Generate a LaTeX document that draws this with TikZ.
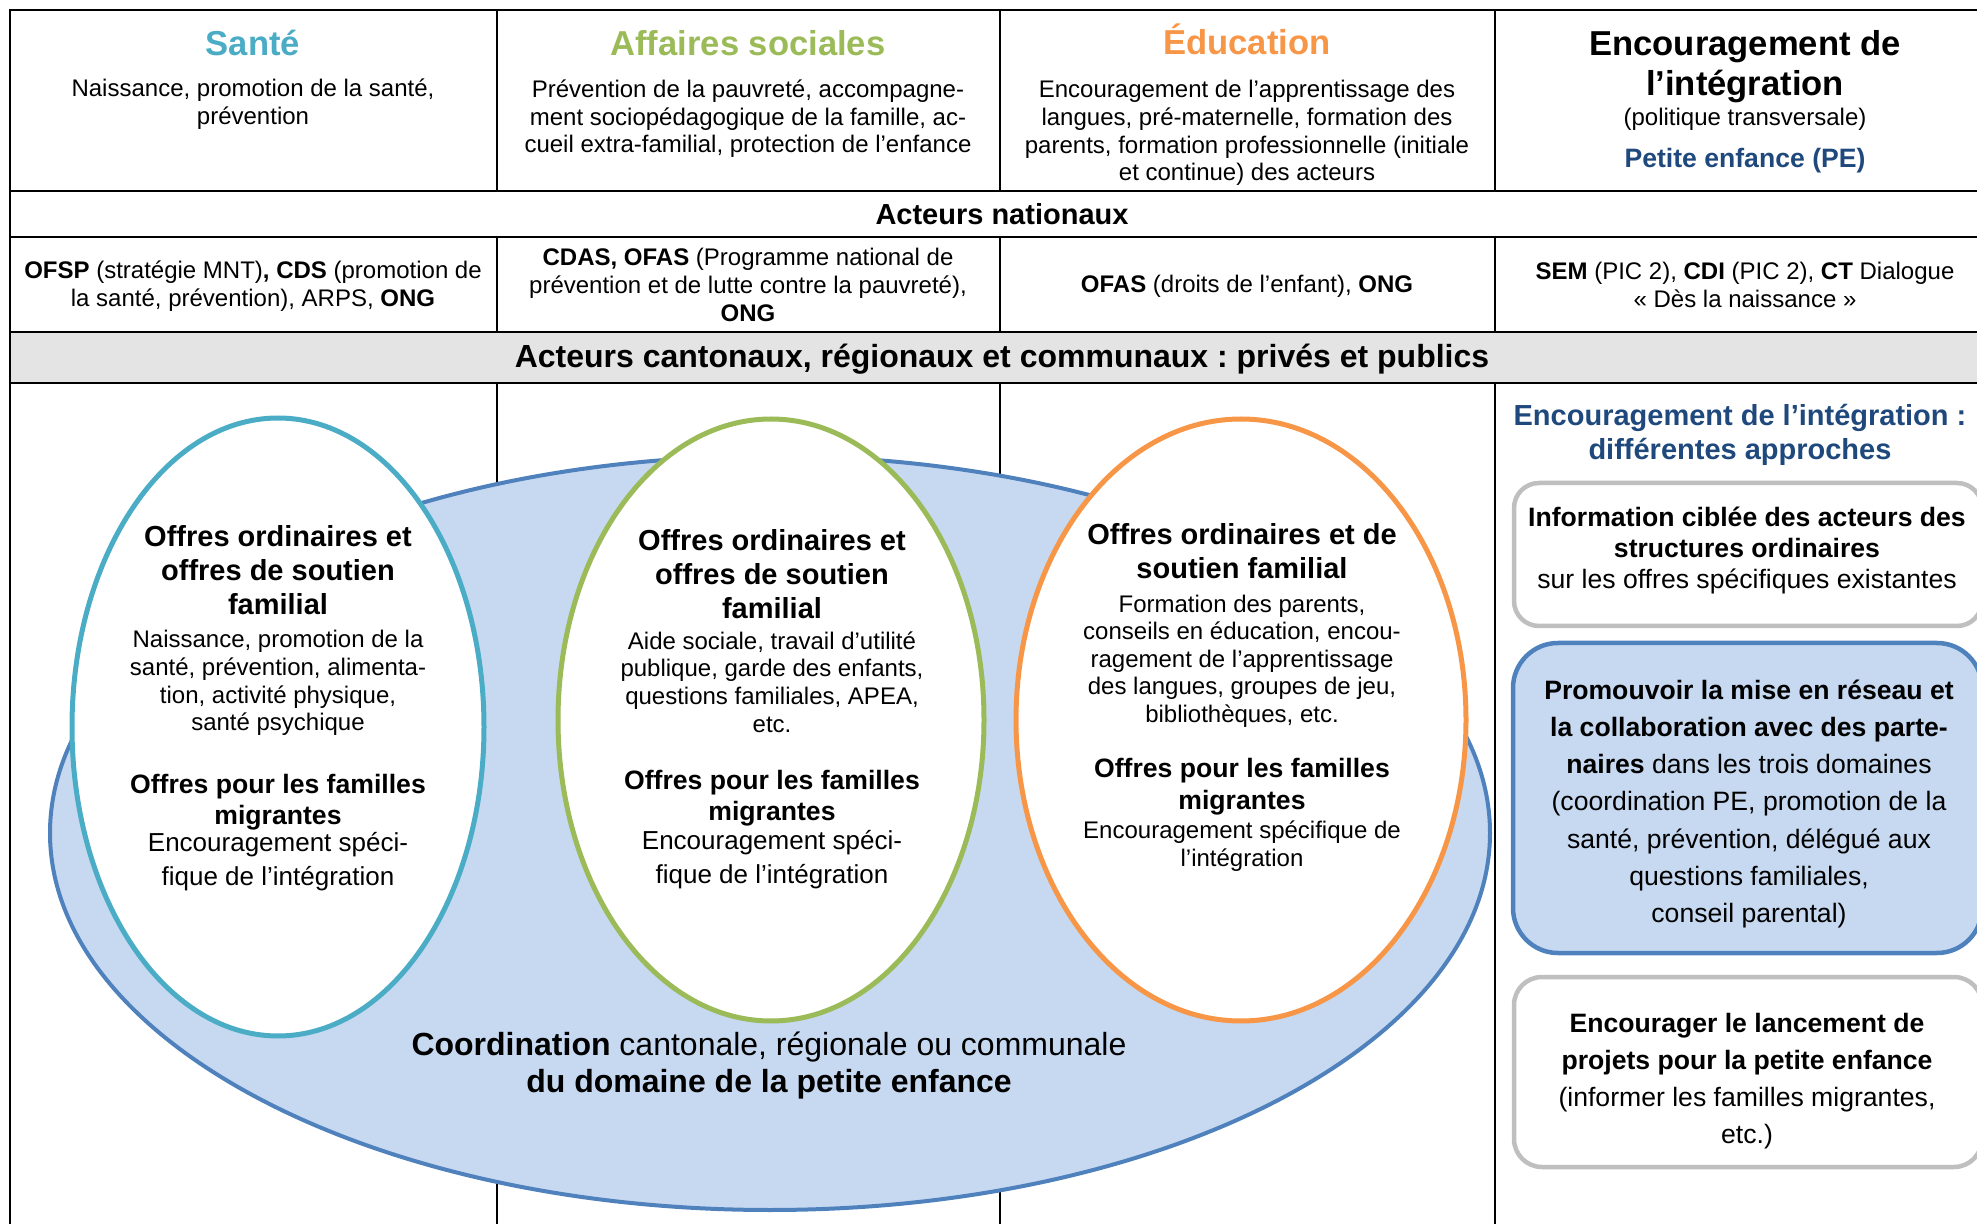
\documentclass[tikz,border=0pt]{standalone}
\usepackage{fontspec}
\setmainfont{Liberation Sans}
\frenchspacing
\definecolor{santecol}{RGB}{75,172,198}
\definecolor{socialcol}{RGB}{155,187,89}
\definecolor{educcol}{RGB}{247,150,70}
\definecolor{coordline}{RGB}{79,129,189}
\definecolor{coordfill}{RGB}{198,217,241}
\definecolor{titleblue}{RGB}{31,73,125}
\definecolor{bandgray}{RGB}{228,228,228}
\definecolor{boxgray}{RGB}{191,191,191}

\begin{document}
\begin{tikzpicture}[x=0.5pt, y=-0.5pt,
    every node/.style={align=center, inner sep=0pt},
    rule/.style={line width=1pt, black},
    coltitle/.style={font=\fontsize{17.3}{20}\selectfont\bfseries},
    coltext/.style={font=\fontsize{12}{13.8}\selectfont},
    rowtitle/.style={font=\fontsize{14.5}{17}\selectfont\bfseries},
    offre/.style={fill=white, line width=2.5pt},
    offhead/.style={font=\fontsize{14.5}{17}\selectfont\bfseries},
    offmig/.style={font=\fontsize{13.3}{15.5}\selectfont\bfseries},
    offenc/.style={font=\fontsize{13}{17}\selectfont},
    approach/.style={line width=2.25pt, rounded corners=12.5pt},
    apptext/.style={font=\fontsize{13.3}{15.5}\selectfont}]

    \useasboundingbox (0,0) rectangle (1977,1224);
    \clip (0,0) rectangle (1977,1224);

    % table
    \fill[bandgray] (10,332) rectangle (1994,383);
    \draw[rule] (10,1230) -- (10,10) -- (1994,10);
    \foreach \yy in {191, 237, 332, 383} {%
        \draw[rule] (10,\yy) -- (1994,\yy);
    };
    \foreach \xx in {497, 1000, 1495} {%
        \draw[rule] (\xx,10) -- (\xx,191);
        \draw[rule] (\xx,237) -- (\xx,332);
        \draw[rule] (\xx,383) -- (\xx,1230);
    };

    % head of the columns
    \node[coltitle, text=santecol] (sante) at (253,43) {Santé};
    \node[coltext] (sante-txt) at (253,104)
        {Naissance, promotion de la santé,\\prévention};
    \node[coltitle, text=socialcol] (social) at (748,43) {Affaires sociales};
    \node[coltext] (social-txt) at (748,119)
        {Prévention de la pauvreté, accompagne-\\ment sociopédagogique de la famille, ac-\\cueil extra-familial, protection de l’enfance};
    \node[coltitle, text=educcol] (educ) at (1247,39) {Éducation};
    \node[coltext] (educ-txt) at (1247,133)
        {Encouragement de l’apprentissage des\\langues, pré-maternelle, formation des\\parents, formation professionnelle (initiale\\et continue) des acteurs};
    \node[coltitle] (integ) at (1745,67) {Encouragement de\\l’intégration};
    \node[coltext] (integ-txt) at (1745,119) {(politique transversale)};
    \node[font=\fontsize{13.3}{16}\selectfont\bfseries, text=titleblue] (pe)
        at (1745,161) {Petite enfance (PE)};

    % national actors
    \node[rowtitle] (nationaux) at (1002,214) {Acteurs nationaux};
    \node[coltext] (nat-sante) at (253,286)
        {\textbf{OFSP} (stratégie MNT)\textbf{, CDS} (promotion de\\la santé, prévention), ARPS, \textbf{ONG}};
    \node[coltext] (nat-social) at (748,285)
        {\textbf{CDAS, OFAS} (Programme national de\\prévention et de lutte contre la pauvreté),\\\textbf{ONG}};
    \node[coltext] (nat-educ) at (1247,286)
        {\textbf{OFAS} (droits de l’enfant), \textbf{ONG}};
    \node[coltext] (nat-integ) at (1745,285)
        {\textbf{SEM} (PIC 2), \textbf{CDI} (PIC 2), \textbf{CT} Dialogue\\« Dès la naissance »};

    \node[font=\fontsize{16}{18}\selectfont\bfseries] (cantonaux) at (1002,359)
        {Acteurs cantonaux, régionaux et communaux : privés et publics};

    % coordination and the three domains
    \filldraw[fill=coordfill, draw=coordline, line width=2pt]
        (770,833) ellipse [x radius=720, y radius=377];
    \filldraw[offre, draw=santecol] (278,727) ellipse [x radius=206, y radius=309];
    \filldraw[offre, draw=socialcol] (771,720) ellipse [x radius=213, y radius=301];
    \filldraw[offre, draw=educcol] (1241,720) ellipse [x radius=225, y radius=301];

    \node[offhead] (sante-head) at (278,570) {Offres ordinaires et\\offres de soutien\\familial};
    \node[coltext] (sante-off) at (278,683)
        {Naissance, promotion de la\\santé, prévention, alimenta-\\tion, activité physique,\\santé psychique};
    \node[offmig] (sante-mig) at (278,802) {Offres pour les familles\\migrantes};
    \node[offenc] (sante-enc) at (278,862) {Encouragement spéci-\\fique de l’intégration};

    \node[offhead] (social-head) at (772,574) {Offres ordinaires et\\offres de soutien\\familial};
    \node[coltext] (social-off) at (772,682)
        {Aide sociale, travail d’utilité\\publique, garde des enfants,\\questions familiales, APEA,\\etc.};
    \node[offmig] (social-mig) at (772,798) {Offres pour les familles\\migrantes};
    \node[offenc] (social-enc) at (772,860) {Encouragement spéci-\\fique de l’intégration};

    \node[offhead] (educ-head) at (1242,551) {Offres ordinaires et de\\soutien familial};
    \node[coltext] (educ-off) at (1242,661)
        {Formation des parents,\\conseils en éducation, encou-\\ragement de l’apprentissage\\des langues, groupes de jeu,\\bibliothèques, etc.};
    \node[offmig, font=\fontsize{13.3}{16}\selectfont\bfseries] (educ-mig) at (1242,787)
        {Offres pour les familles\\migrantes};
    \node[coltext] (educ-enc) at (1242,846) {Encouragement spécifique de\\l’intégration};

    \node[font=\fontsize{16}{18.5}\selectfont] (coord) at (769,1066)
        {\textbf{Coordination} cantonale, régionale ou communale\\\textbf{du domaine de la petite enfance}};

    % approaches of the integration
    \node[font=\fontsize{14.5}{17}\selectfont\bfseries, text=titleblue] (approches)
        at (1740,435) {Encouragement de l’intégration :\\différentes approches};

    \draw[approach, draw=boxgray, fill=white] (1514,483) rectangle (1982,626);
    \node[apptext] (info) at (1747,551)
        {\textbf{Information ciblée des acteurs des}\\\textbf{structures ordinaires}\\sur les offres spécifiques existantes};

    \draw[approach, draw=coordline, fill=coordfill, rounded corners=22.5pt]
        (1513,643) rectangle (1982,953);
    \node[apptext, font=\fontsize{13.3}{18.6}\selectfont] (reseau) at (1749,804)
        {\textbf{Promouvoir la mise en réseau et}\\\textbf{la collaboration avec des parte-}\\\textbf{naires} dans les trois domaines\\(coordination PE, promotion de la\\santé, prévention, délégué aux\\questions familiales,\\conseil parental)};

    \draw[approach, draw=boxgray, fill=white, rounded corners=14pt]
        (1514,977) rectangle (1982,1167);
    \node[apptext, font=\fontsize{13.3}{18.5}\selectfont] (projets) at (1747,1081)
        {\textbf{Encourager le lancement de}\\\textbf{projets pour la petite enfance}\\(informer les familles migrantes,\\etc.)};

\end{tikzpicture}
\end{document}
